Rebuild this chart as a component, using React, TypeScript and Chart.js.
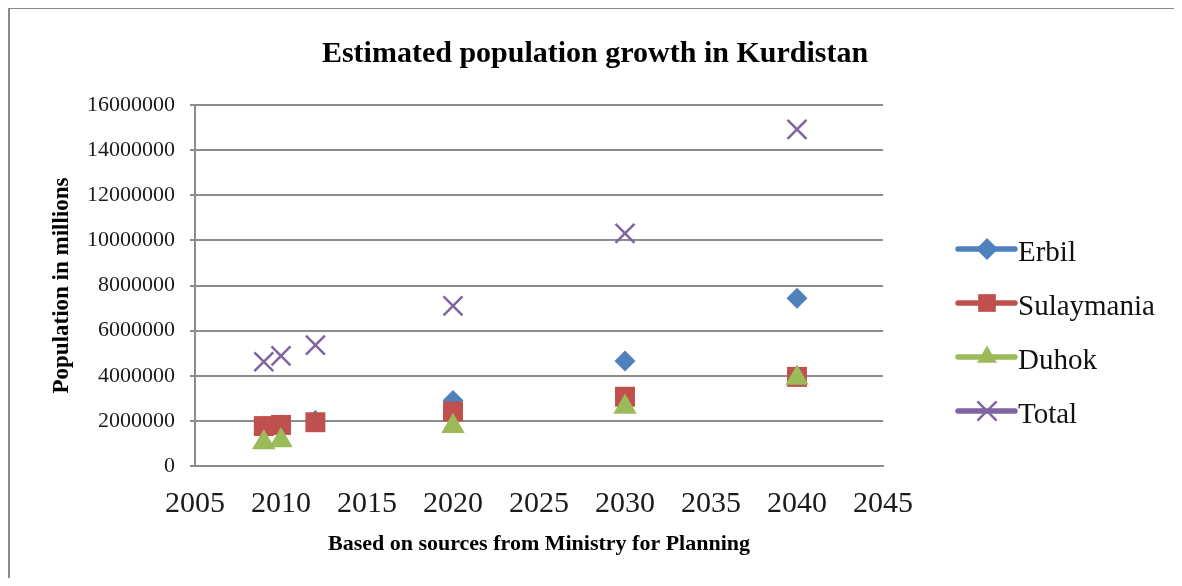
import React, { useEffect, useRef } from "react";
import { Chart, registerables } from "chart.js";

Chart.register(...registerables);

// ---- Data ----
const seriesNames = ["Erbil", "Sulaymania", "Duhok", "Total"];
const seriesColors = ["#4F81BD", "#C0504D", "#9BBB59", "#8064A2"];

const erbilYears = [2009, 2010, 2012, 2020, 2030, 2040];
const erbilValues = [1770000, 1820000, 2020000, 2900000, 4650000, 7430000];

const sulaymaniaYears = [2009, 2010, 2012, 2020, 2030, 2040];
const sulaymaniaValues = [1770000, 1820000, 1940000, 2410000, 3070000, 3950000];

const duhokYears = [2009, 2010, 2020, 2030, 2040];
const duhokValues = [1040000, 1130000, 1760000, 2620000, 3900000];

const totalYears = [2009, 2010, 2012, 2020, 2030, 2040];
const totalValues = [4620000, 4880000, 5360000, 7100000, 10310000, 14920000];

const titleText = "Estimated population growth in Kurdistan";
const xAxisTitle = "Based on sources from Ministry for Planning";
const yAxisTitle = "Population in millions";

const xMin = 2005;
const xMax = 2045;
const xStep = 5;
const yMin = 0;
const yMax = 16000000;
const yStep = 2000000;

const toPoints = (xs: number[], ys: number[]) => xs.map((x, i) => ({ x, y: ys[i] }));

const SERIF = "'Liberation Serif', 'Times New Roman', serif";

type MarkerStyle = "rectRot" | "rect" | "triangle" | "crossRot";
const markerStyles: MarkerStyle[] = ["rectRot", "rect", "triangle", "crossRot"];
const markerRadii = [10.5, 14.1, 13.5, 13.4];
const legendMarkerRadii = [11, 12.5, 11.5, 12.5];

function drawMarker(ctx: CanvasRenderingContext2D, style: MarkerStyle, x: number, y: number, r: number, color: string) {
  ctx.save();
  ctx.fillStyle = color;
  ctx.strokeStyle = color;
  ctx.beginPath();
  if (style === "rectRot") {
    ctx.moveTo(x, y - r);
    ctx.lineTo(x + r, y);
    ctx.lineTo(x, y + r);
    ctx.lineTo(x - r, y);
    ctx.closePath();
    ctx.fill();
  } else if (style === "rect") {
    const s = Math.SQRT1_2 * r;
    ctx.rect(x - s, y - s, 2 * s, 2 * s);
    ctx.fill();
  } else if (style === "triangle") {
    for (let k = 0; k < 3; k++) {
      const a = (k * 2 * Math.PI) / 3;
      const px = x + Math.sin(a) * r;
      const py = y - Math.cos(a) * r;
      if (k === 0) ctx.moveTo(px, py);
      else ctx.lineTo(px, py);
    }
    ctx.closePath();
    ctx.fill();
  } else {
    const d = Math.SQRT1_2 * r;
    ctx.lineWidth = 2.5;
    ctx.moveTo(x - d, y - d);
    ctx.lineTo(x + d, y + d);
    ctx.moveTo(x + d, y - d);
    ctx.lineTo(x - d, y + d);
    ctx.stroke();
  }
  ctx.restore();
}

const framePlugin = {
  id: "frame",
  beforeDraw(chart: any) {
    const ctx = chart.ctx as CanvasRenderingContext2D;
    ctx.save();
    ctx.fillStyle = "#ffffff";
    ctx.fillRect(0, 0, chart.width, chart.height);
    ctx.strokeStyle = "#8a8a8a";
    ctx.lineWidth = 2;
    ctx.beginPath();
    ctx.moveTo(1, chart.height);
    ctx.lineTo(1, 0);
    ctx.lineTo(chart.width, 0);
    ctx.stroke();
    ctx.restore();
  },
};

const sideLegendPlugin = {
  id: "sideLegend",
  afterDraw(chart: any) {
    const ctx = chart.ctx as CanvasRenderingContext2D;
    const lineStart = 950;
    const lineEnd = 1007;
    const markerX = 979;
    const textX = 1010;
    const top = 241;
    const gap = 54;
    ctx.save();
    chart.data.datasets.forEach((ds: any, i: number) => {
      const y = top + i * gap;
      ctx.strokeStyle = ds.borderColor;
      ctx.lineWidth = 5.5;
      ctx.lineCap = "round";
      ctx.beginPath();
      ctx.moveTo(lineStart, y);
      ctx.lineTo(lineEnd, y);
      ctx.stroke();
      drawMarker(ctx, markerStyles[i], markerX, y, legendMarkerRadii[i], ds.borderColor);
      ctx.fillStyle = "#111111";
      ctx.font = `29px ${SERIF}`;
      ctx.textAlign = "left";
      ctx.textBaseline = "middle";
      ctx.fillText(ds.label, textX, y + 4);
    });
    ctx.restore();
  },
};

export default function App() {
  const canvasRef = useRef<HTMLCanvasElement | null>(null);

  useEffect(() => {
    const canvas = canvasRef.current;
    if (!canvas) return;
    const seriesData = [
      toPoints(erbilYears, erbilValues),
      toPoints(sulaymaniaYears, sulaymaniaValues),
      toPoints(duhokYears, duhokValues),
      toPoints(totalYears, totalValues),
    ];
    const datasets = seriesNames.map((name, i) => {
      const isCross = markerStyles[i] === "crossRot";
      return {
        label: name,
        data: seriesData[i],
        order: seriesNames.length - i,
        pointStyle: markerStyles[i],
        pointRadius: markerRadii[i],
        pointHoverRadius: markerRadii[i],
        backgroundColor: seriesColors[i],
        borderColor: seriesColors[i],
        pointBackgroundColor: seriesColors[i],
        pointBorderColor: seriesColors[i],
        pointBorderWidth: isCross ? 2.5 : 0,
        showLine: false,
      };
    });

    const gridColor = "#8c8c8c";

    const chart = new Chart(canvas, {
      type: "scatter",
      data: { datasets },
      plugins: [framePlugin, sideLegendPlugin],
      options: {
        responsive: false,
        animation: false,
        layout: { padding: { left: 0, right: 0, top: 0, bottom: 0 } },
        plugins: {
          legend: { display: false },
          tooltip: { enabled: false },
          title: {
            display: true,
            text: titleText,
            color: "#000000",
            font: { family: SERIF, size: 30, weight: "bold" },
            padding: { top: 28, bottom: 33 },
          },
        },
        scales: {
          x: {
            type: "linear",
            min: xMin,
            max: xMax,
            afterFit: (scale: any) => {
              scale.height = 112;
            },
            ticks: {
              stepSize: xStep,
              color: "#1a1a1a",
              font: { family: SERIF, size: 30 },
              padding: 20,
              callback: (v: any) => String(v),
            },
            grid: { display: false, drawTicks: false },
            border: { display: true, color: gridColor, width: 2 },
            title: {
              display: true,
              text: xAxisTitle,
              color: "#000000",
              font: { family: SERIF, size: 22, weight: "bold" },
              padding: { top: 0, bottom: 20 },
            },
          },
          y: {
            type: "linear",
            min: yMin,
            max: yMax,
            afterFit: (scale: any) => {
              scale.width = 187;
            },
            ticks: {
              stepSize: yStep,
              color: "#1a1a1a",
              font: { family: SERIF, size: 22 },
              padding: 15,
              callback: (v: any) => String(v),
            },
            grid: {
              display: true,
              color: gridColor,
              lineWidth: 2,
              drawTicks: true,
              tickLength: 5,
            },
            border: { display: true, color: gridColor, width: 2 },
            title: {
              display: true,
              text: yAxisTitle,
              color: "#000000",
              font: { family: SERIF, size: 23, weight: "bold" },
              padding: { top: 40, bottom: 0 },
            },
          },
          legendSpace: {
            type: "linear",
            position: "right",
            display: true,
            afterFit: (scale: any) => {
              scale.width = 299;
            },
            ticks: { display: false },
            grid: { display: false, drawTicks: false },
            border: { display: false },
            title: { display: false },
          },
        },
      },
    } as any);

    return () => {
      chart.destroy();
    };
  }, []);

  return (
    <div style={{ width: 1174, height: 570 }}>
      <canvas ref={canvasRef} width={1174} height={570} style={{ display: "block" }} />
    </div>
  );
}
